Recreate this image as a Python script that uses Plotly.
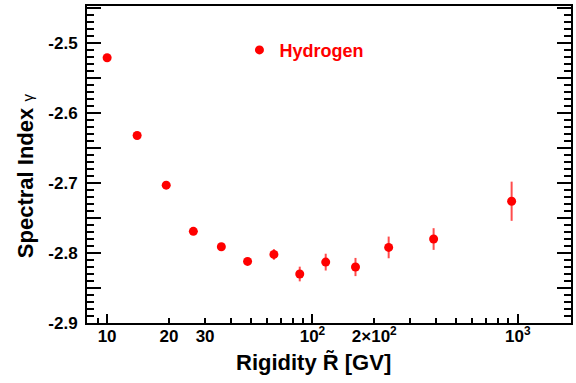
import plotly.graph_objects as go

# Spectral index of hydrogen versus rigidity
rigidity = [10.0, 14.0, 19.4, 26.3, 36.0, 48.3, 64.9, 86.7, 116.0, 162.0, 235.0, 389.0, 933.0]
gamma = [-2.521, -2.632, -2.703, -2.769, -2.791, -2.812, -2.802, -2.830, -2.813,
         -2.820, -2.792, -2.780, -2.726]
gamma_err = [0.002, 0.002, 0.002, 0.002, 0.003, 0.004, 0.0076, 0.0105, 0.012,
             0.013, 0.0155, 0.0155, 0.028]

# Axis ticks
x_label_vals = [10, 20, 30, 100, 200, 1000]
x_label_text = ["10", "20", "30", "10<sup>2</sup>", "2×10<sup>2</sup>", "10<sup>3</sup>"]
x_minor_vals = [9, 40, 50, 60, 70, 80, 90, 300, 400, 500, 600, 700, 800, 900]
x_decade_vals = [10, 100, 1000]
y_label_vals = [-2.9, -2.8, -2.7, -2.6, -2.5]
y_label_text = ["-2.9", "-2.8", "-2.7", "-2.6", "-2.5"]
y_half_vals = [-2.85, -2.75, -2.65, -2.55, -2.45]

RED = "#ff0000"
FONT = "Liberation Sans"
x_range = [0.902, 3.259]
y_range = [-2.9, -2.447]

fig = go.Figure()
fig.add_trace(go.Scatter(
    x=rigidity, y=gamma, mode="markers", name="<b>Hydrogen</b>",
    marker=dict(color=RED, size=9, symbol="circle"),
    error_y=dict(type="data", array=gamma_err, color="rgba(255,0,0,0.7)",
                 thickness=2, width=0),
))
# empty traces binding the overlay axes that carry the longer ticks
fig.add_trace(go.Scatter(x=[], y=[], xaxis="x2", yaxis="y2",
                         showlegend=False, hoverinfo="skip"))

tick_style = dict(ticks="inside", tickwidth=1.5, tickcolor="black")

fig.update_layout(
    width=576, height=383,
    margin=dict(l=87, r=3, t=6, b=60),
    paper_bgcolor="white", plot_bgcolor="white",
    font=dict(family=FONT, color="black"),
    showlegend=True,
    legend=dict(x=0.315, y=0.8605, xanchor="left", yanchor="middle",
                font=dict(family=FONT, size=18, color=RED),
                bgcolor="rgba(0,0,0,0)", borderwidth=0),
    xaxis=dict(
        type="log", range=x_range, showgrid=False, zeroline=False,
        showline=True, linecolor="black", linewidth=2, mirror=True,
        ticklen=5, **tick_style,
        tickmode="array", tickvals=x_label_vals, ticktext=x_label_text,
        ticklabelstandoff=-3,
        tickfont=dict(family=FONT, size=17, color="black", weight="bold"),
        minor=dict(tickmode="array", tickvals=x_minor_vals, ticklen=5,
                   showgrid=False, **tick_style),
    ),
    xaxis2=dict(
        type="log", range=x_range, overlaying="x", anchor="y", side="bottom",
        showgrid=False, zeroline=False, showline=False,
        ticklen=9, **tick_style,
        tickmode="array", tickvals=x_decade_vals, showticklabels=False,
    ),
    yaxis=dict(
        range=y_range, showgrid=False, zeroline=False,
        showline=True, linecolor="black", linewidth=2, mirror="ticks",
        ticklen=14, **tick_style,
        tickmode="array", tickvals=y_label_vals, ticktext=y_label_text,
        ticklabelstandoff=4,
        tickfont=dict(family=FONT, size=17, color="black", weight="bold"),
        minor=dict(ticklen=7, dtick=0.01, showgrid=False, **tick_style),
    ),
    yaxis2=dict(
        range=y_range, overlaying="y", anchor="x", side="left",
        showgrid=False, zeroline=False, showline=False, mirror="ticks",
        ticklen=14, **tick_style,
        tickmode="array", tickvals=y_half_vals, showticklabels=False,
    ),
    annotations=[
        dict(text="<b>Spectral Index</b> <span style='font-size:15px'>γ</span>",
             xref="paper", yref="paper", x=-0.127, y=0.465,
             xanchor="center", yanchor="middle", textangle=-90, showarrow=False,
             font=dict(family=FONT, size=22, color="black")),
        dict(text="<b>Rigidity R\u0303 [GV]</b>",
             xref="paper", yref="paper", x=0.468, y=-0.125,
             xanchor="center", yanchor="middle", showarrow=False,
             font=dict(family=FONT, size=22, color="black")),
    ],
)

fig.write_html("out.html")
